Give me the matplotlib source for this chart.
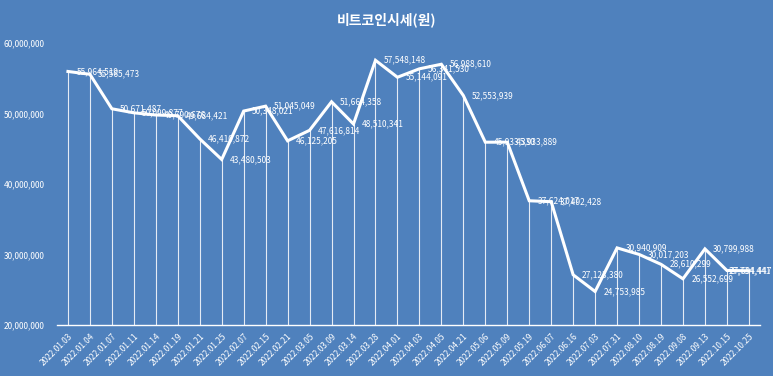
import matplotlib
matplotlib.use("Agg")
import matplotlib.pyplot as plt
from matplotlib.ticker import FuncFormatter

plt.rcParams['font.family'] = ['Noto Sans CJK KR', 'DejaVu Sans']

dates = ["2022.01.03", "2022.01.04", "2022.01.07", "2022.01.11", "2022.01.14", "2022.01.19",
         "2022.01.21", "2022.01.25", "2022.02.07", "2022.02.15", "2022.02.21", "2022.03.05",
         "2022.03.09", "2022.03.14", "2022.03.28", "2022.04.01", "2022.04.03", "2022.04.05",
         "2022.04.21", "2022.05.06", "2022.05.09", "2022.05.19", "2022.06.07", "2022.06.16",
         "2022.07.03", "2022.07.31", "2022.08.10", "2022.08.19", "2022.09.08", "2022.09.13",
         "2022.10.15", "2022.10.25"]
prices = [55964519, 55565473, 50671487, 50099877, 49790676, 49684421,
          46410872, 43480503, 50348021, 51045049, 46125205, 47616814,
          51664358, 48510341, 57548148, 55144091, 56341530, 56988610,
          52553939, 45933330, 45933889, 37624017, 37492428, 27123380,
          24753985, 30940909, 30017203, 28610299, 26552699, 30799988,
          27734441, 27694447]
y_ticks = [20000000, 30000000, 40000000, 50000000, 60000000]
title = "비트코인시세(원)"

bg = "#4F81BD"
fig = plt.figure(figsize=(7.73, 3.76), dpi=100, facecolor=bg)
ax = fig.add_axes([0.0737, 0.1356, 0.9093, 0.75])
ax.set_facecolor(bg)

x = list(range(len(dates)))
ymin, ymax = y_ticks[0], y_ticks[-1]
ax.vlines(x, ymin, prices, colors="white", linewidth=0.8, alpha=0.85, zorder=2)
ax.plot(x, prices, color="white", linewidth=2.2, solid_joinstyle="miter", zorder=3)

n = len(prices)
for i, (xi, v) in enumerate(zip(x, prices)):
    if i == n - 2:
        dx = 1
    elif i == n - 1:
        dx = -14  # last label pulled back inside the chart, overlapping as in the reference
    else:
        dx = 6
    ax.annotate(f"{v:,}", (xi, v), xytext=(dx, 0), textcoords="offset points",
                ha="left", va="center", color="white", fontsize=6, zorder=4)

ax.set_xlim(-0.5, len(dates) - 0.5)
ax.set_ylim(ymin, ymax)
ax.set_yticks(y_ticks)
ax.yaxis.set_major_formatter(FuncFormatter(lambda v, p: f"{int(v):,}"))
ax.set_xticks(x)
ax.set_xticklabels(dates, rotation=45, ha="right", rotation_mode="anchor")
ax.tick_params(axis="both", length=0, colors="white", labelsize=6)
ax.tick_params(axis="y", pad=9)
ax.tick_params(axis="x", pad=5)
for s in ["top", "right", "left"]:
    ax.spines[s].set_visible(False)
ax.spines["bottom"].set_color("white")
ax.spines["bottom"].set_linewidth(1.0)

fig.text(0.5, 0.947, title, ha="center", va="center", color="white",
         fontsize=10, fontweight="bold")

fig.savefig("out.png", dpi=100, facecolor=bg)
